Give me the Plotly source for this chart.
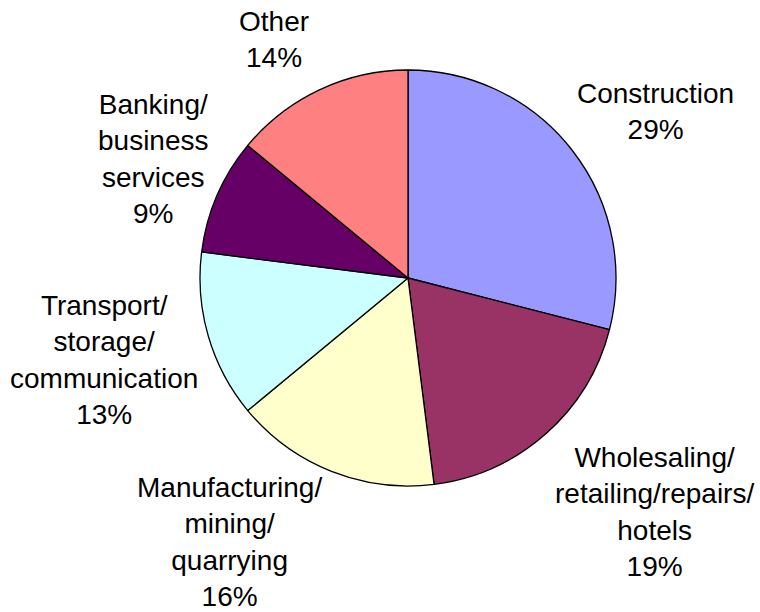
import math
import plotly.graph_objects as go

# Sector shares (%), clockwise from 12 o'clock
sectors = [
    "Construction",
    "Wholesaling/<br>retailing/repairs/<br>hotels",
    "Manufacturing/<br>mining/<br>quarrying",
    "Transport/<br>storage/<br>communication",
    "Banking/<br>business<br>services",
    "Other",
]
shares = [29, 19, 16, 13, 9, 14]
colors = ["#9999FF", "#993366", "#FFFFCC", "#CCFFFF", "#660066", "#FF8080"]

W, H = 760, 612
CX, CY, R = 408, 278, 208  # pie centre and radius in px

# label placement: anchor side and fine shift (px) per slice
label_style = [
    ("left", "bottom", -11, -7),
    ("left", "top", -4, 7),
    ("right", "top", -1, 17),
    ("right", "middle", 8, -19),
    ("right", "middle", 9, 30),
    ("right", "bottom", -1, 0),
]

fig = go.Figure(
    go.Pie(
        labels=[s.replace("<br>", " ") for s in sectors],
        values=shares,
        sort=False,
        direction="clockwise",
        rotation=0,
        textinfo="none",
        hoverinfo="label+percent",
        marker=dict(colors=colors, line=dict(color="black", width=1.3)),
        domain=dict(x=[(CX - R) / W, (CX + R) / W], y=[(H - CY - R) / H, (H - CY + R) / H]),
        showlegend=False,
    )
)

total = sum(shares)
cum = 0
annotations = []
for name, val, (xa, ya, dx, dy) in zip(sectors, shares, label_style):
    mid = (cum + val / 2) / total * 2 * math.pi
    cum += val
    px = CX + 1.08 * R * math.sin(mid)
    py = CY - 1.08 * R * math.cos(mid)
    pct = round(val / total * 100)
    annotations.append(
        dict(
            x=px / W,
            y=1 - py / H,
            xref="paper",
            yref="paper",
            text=f"{name}<br>{pct}%",
            showarrow=False,
            xanchor=xa,
            yanchor=ya,
            xshift=dx,
            yshift=dy,
            align="center",
            font=dict(family="Liberation Sans, Arial, sans-serif", size=28, color="black"),
        )
    )

fig.update_layout(
    width=W,
    height=H,
    margin=dict(l=0, r=0, t=0, b=0),
    paper_bgcolor="white",
    plot_bgcolor="white",
    annotations=annotations,
)

fig.write_html("out.html")
